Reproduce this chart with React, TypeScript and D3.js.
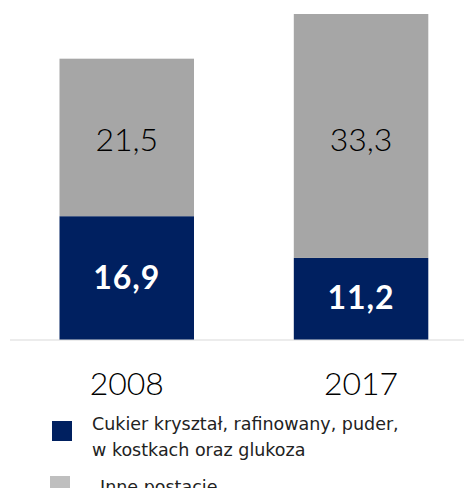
import React from "react";
import * as d3 from "d3";

const years = ["2008", "2017"];
const cukier = [16.9, 11.2];
const inne = [21.5, 33.3];
const seriesNames = ["Cukier kryształ, rafinowany, puder,", "w kostkach oraz glukoza"];
const inneName = "Inne postacie";

const W = 472, H = 496;
const NAVY = "#002060", GRAY = "#a6a6a6", LGRAY = "#bfbfbf";
const FONT = "Lato, 'Open Sans', sans-serif";
const LFONT = "'DejaVu Sans', sans-serif";

export default function App() {
  const baseY = 340;
  const x = d3.scaleBand().domain(years).range([0, 488]).paddingInner(0.7425).paddingOuter(0.4425);
  const y = d3.scaleLinear().domain([0, 44.5]).range([baseY, 14]);
  const stack = d3.stack<any>().keys(["c", "i"])(years.map((yr, k) => ({ yr, c: cukier[k], i: inne[k] })));
  const bw = 134.5;
  const bx = (k: number) => 59.5 + k * 234.3;
  void x;
  return (
    <div style={{ margin: -8 }}>
      <svg width={W} height={H} style={{ display: "block" }} fontFamily={FONT}>
        <rect width={W} height={H} fill="#fff" />
        {stack.map((s, si) =>
          s.map((d, k) => {
            const x0 = bx(k);
            const y0 = y(d[1]), y1 = y(d[0]);
            const cy = si === 0 ? (k === 0 ? 278 : 298) : 140;
            return (
              <g key={si + "-" + k}>
                <rect x={x0} y={y0} width={bw} height={y1 - y0} fill={si === 0 ? NAVY : GRAY} />
                <text
                  x={x0 + bw / 2}
                  y={cy}
                  dy="0.35em"
                  textAnchor="middle"
                  fontSize={32}
                  fontWeight={si === 0 ? 700 : 300}
                  letterSpacing={si === 0 ? 1 : 0}
                  fill={si === 0 ? "#fff" : "#000"}
                >
                  {(si === 0 ? cukier[k] : inne[k]).toFixed(1).replace(".", ",")}
                </text>
              </g>
            );
          })
        )}
        <line x1={10} x2={W} y1={baseY} y2={baseY} stroke="#d9d9d9" strokeWidth={1.2} />
        {years.map((yr, k) => (
          <text key={yr} x={bx(k) + bw / 2} y={384} dy="0.35em" textAnchor="middle" fontSize={32} fontWeight={300} fill="#000">
            {yr}
          </text>
        ))}
        <rect x={52} y={421} width={20} height={20} fill={NAVY} />
        <text x={92} y={424} dy="0.35em" fontSize={17.5} fontFamily={LFONT} fill="#222">{seriesNames[0]}</text>
        <text x={92} y={450} dy="0.35em" fontSize={17.5} fontFamily={LFONT} fill="#222">{seriesNames[1]}</text>
        <rect x={50} y={476} width={20} height={20} fill={LGRAY} />
        <text x={100} y={487} dy="0.35em" fontSize={17.5} fontFamily={LFONT} fill="#222">{inneName}</text>
      </svg>
    </div>
  );
}
